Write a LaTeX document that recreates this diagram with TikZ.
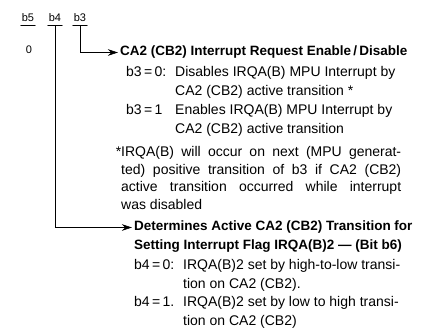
\documentclass[tikz,border=0pt]{standalone}
\usepackage{fontspec}
\setmainfont{Liberation Sans}
\usetikzlibrary{arrows.meta}

\begin{document}
\begin{tikzpicture}[x=1pt,y=-1pt,line cap=round]

    % let's define some key values
    \def\xhead{120}
    \def\xcase{126}
    \def\xdesc{175}
    \def\xdet{134}
    \def\xcaseb{134}
    \def\xdescb{183}
    \def\lskip{18.5}

    % Styles
    \tikzstyle{bitlabel}=[inner sep=0pt, anchor=base, font=\fontsize{11}{13}\selectfont]
    \tikzstyle{heading}=[inner sep=0pt, anchor=base west, font=\bfseries\fontsize{13.5}{18.5}\selectfont]
    \tikzstyle{case}=[inner sep=0pt, anchor=base west, font=\fontsize{14}{18.5}\selectfont]
    \tikzstyle{desc}=[inner sep=0pt, anchor=base west, align=left, font=\fontsize{14}{18.5}\selectfont]
    \tikzstyle{note}=[inner sep=0pt, anchor=base west, text width=280pt, align=justify,
        font=\fontsize{14}{17.5}\selectfont]
    \tikzstyle{link}=[-{Stealth[length=10pt,width=6.5pt]}, semithick, shorten >=2pt]

    \useasboundingbox (0,0) rectangle (424,331);

    % bit labels
    \node[bitlabel] (b5) at (28,22) {b5};
    \node[bitlabel] (b4) at (55,22) {b4};
    \node[bitlabel] (b3) at (80,22) {b3};
    \node[bitlabel] (zero) at (29,54) {0};

    % underlines
    \foreach \b in {b5,b4,b3}
        \draw[semithick] ([xshift=-1pt,yshift=-3pt]\b.south west) -- ([xshift=1pt,yshift=-3pt]\b.south east);
    \coordinate (b4bar) at ([yshift=-3pt]b4.south);
    \coordinate (b3bar) at ([yshift=-3pt]b3.south);

    % interrupt enable bit
    % (align=left nodes sit on the baseline of their last line)
    \node[heading] (head) at (\xhead,56) {CA2 (CB2) Interrupt Request Enable\,/\,Disable};
    \node[case] (c30) at (\xcase,77) {b3\,=\,0:};
    \node[desc] (d30) at (\xdesc,77+\lskip) {Disables IRQA(B) MPU Interrupt by\\CA2 (CB2) active transition *};
    \node[case] (c31) at (\xcase,115) {b3\,=\,1};
    \node[desc] (d31) at (\xdesc,115+\lskip) {Enables IRQA(B) MPU Interrupt by\\CA2 (CB2) active transition};

    % footnote (text width: sits on its first line)
    \node[note] (fn) at (121,157) {\llap{*}IRQA(B) will occur on next (MPU generat-\linebreak
        ted) positive transition of b3 if CA2 (CB2)\linebreak
        active transition occurred while interrupt\linebreak
        was disabled};

    % transition bit
    \node[heading] (det) at (\xdet,231) {Determines Active CA2 (CB2) Transition for};
    \node[heading] (detb) at (\xdet,250) {Setting Interrupt Flag IRQA(B)2 --- (Bit b6)};
    \node[case] (c40) at (\xcaseb,270) {b4\,=\,0:};
    \node[desc] (d40) at (\xdescb,270+\lskip) {IRQA(B)2 set by high-to-low transi-\\tion on CA2 (CB2).};
    \node[case] (c41) at (\xcaseb,307) {b4\,=\,1.};
    \node[desc] (d41) at (\xdescb,307+\lskip) {IRQA(B)2 set by low to high transi-\\tion on CA2 (CB2)};

    % connectors
    \draw[link] (b3bar) |- (head.west);
    \draw[link] (b4bar) |- (det.west);

\end{tikzpicture}
\end{document}
